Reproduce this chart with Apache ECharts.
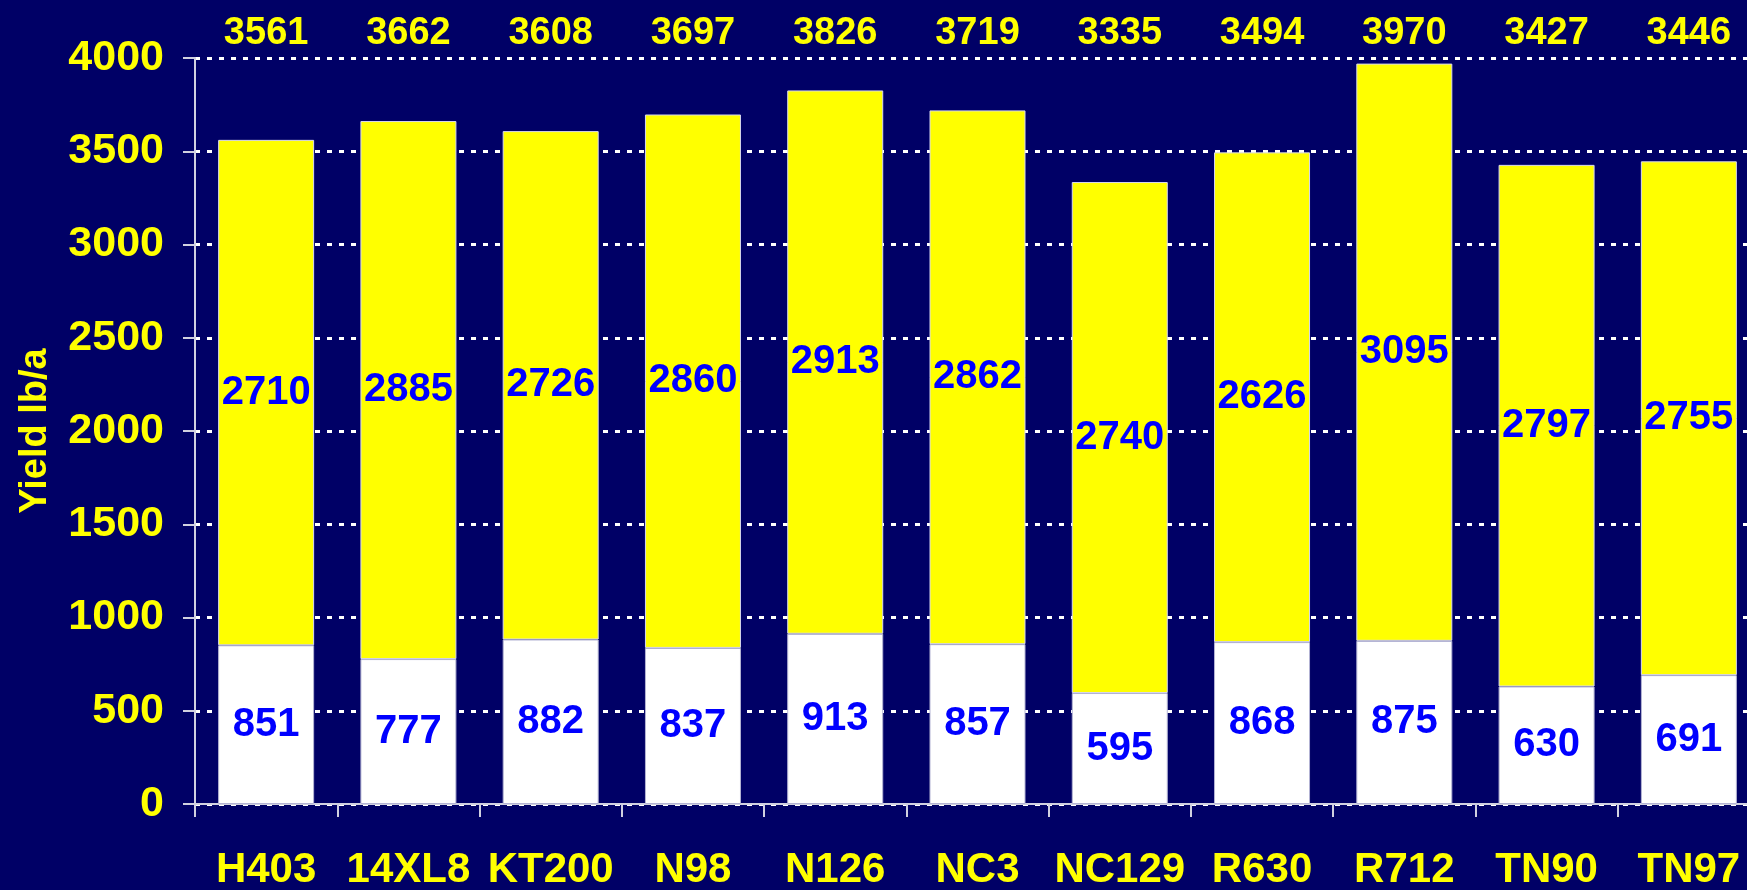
<!DOCTYPE html>
<html>
<head>
<meta charset="utf-8">
<script src="https://cdn.jsdelivr.net/npm/echarts@6/dist/echarts.min.js"></script>
<style>
html, body { margin: 0; padding: 0; background: #000066; }
#chart { width: 1747px; height: 890px; }
</style>
</head>
<body>
<div id="chart"></div>
<script>
// tobacco varieties and yield (lb/a), two stacked parts
var varieties = ['H403', '14XL8', 'KT200', 'N98', 'N126', 'NC3', 'NC129', 'R630', 'R712', 'TN90', 'TN97'];
var lowerPart = [851, 777, 882, 837, 913, 857, 595, 868, 875, 630, 691];
var upperPart = [2710, 2885, 2726, 2860, 2913, 2862, 2740, 2626, 3095, 2797, 2755];
var totals = [3561, 3662, 3608, 3697, 3826, 3719, 3335, 3494, 3970, 3427, 3446];

var FONT = '"Liberation Sans", Arial, sans-serif';
var axisGray = '#d0d0e0';

var myChart = echarts.init(document.getElementById('chart'));
var option = {
    backgroundColor: '#000066',
    animation: false,
    grid: {
        left: 195,
        top: 58,
        width: 1565,   // last category runs off the right edge, like the original
        height: 746,
        outerBoundsMode: 'none'
    },
    xAxis: [{
        type: 'category',
        data: varieties,
        axisLine: { show: true, lineStyle: { color: axisGray, width: 2 } },
        axisTick: { show: true, length: 13, lineStyle: { color: axisGray, width: 2 } },
        axisLabel: {
            color: '#ffff00', fontSize: 42, fontWeight: 'bold', fontFamily: FONT,
            margin: 45, interval: 0
        }
    }, {
        // totals printed above the plot
        type: 'category',
        position: 'top',
        data: totals,
        axisLine: { show: false },
        axisTick: { show: false },
        axisLabel: {
            color: '#ffff00', fontSize: 38, fontWeight: 'bold', fontFamily: FONT,
            margin: 5, interval: 0
        }
    }],
    yAxis: {
        type: 'value',
        min: 0,
        max: 4000,
        interval: 500,
        name: 'Yield lb/a',
        nameLocation: 'middle',
        nameRotate: 90,
        nameGap: 140,
        nameTextStyle: { color: '#ffff00', fontSize: 38, fontWeight: 'bold', fontFamily: FONT },
        axisLine: { show: true, lineStyle: { color: axisGray, width: 2 } },
        axisTick: { show: true, length: 12, lineStyle: { color: axisGray, width: 2 } },
        axisLabel: {
            color: '#ffff00', fontSize: 43, fontWeight: 'bold', fontFamily: FONT, margin: 31,
            formatter: function (v) { return String(v); }
        },
        splitLine: { show: true, lineStyle: { color: '#ffffff', type: [5, 7], width: 3 } }
    },
    series: [{
        name: 'lower',
        type: 'bar',
        stack: 'yield',
        barWidth: 96,
        data: lowerPart,
        itemStyle: { color: '#ffffff', borderColor: '#b4b4d4', borderWidth: 1 },
        label: {
            show: true, position: 'inside',
            color: '#0000ff', fontSize: 40, fontWeight: 'bold', fontFamily: FONT
        }
    }, {
        name: 'upper',
        type: 'bar',
        stack: 'yield',
        barWidth: 96,
        data: upperPart,
        itemStyle: { color: '#ffff00', borderColor: '#d8d8f0', borderWidth: 1 },
        label: {
            show: true, position: 'inside',
            color: '#0000ff', fontSize: 40, fontWeight: 'bold', fontFamily: FONT
        }
    }]
};
myChart.setOption(option);
</script>
</body>
</html>
